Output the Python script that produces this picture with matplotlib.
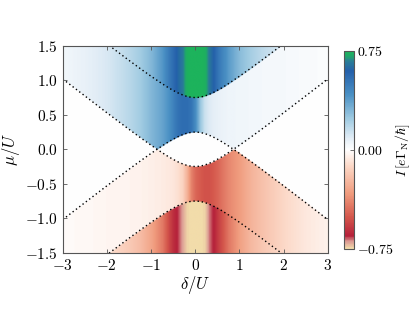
import numpy as np
import matplotlib
matplotlib.use('Agg')
from matplotlib import pyplot as plt
from matplotlib.colors import LinearSegmentedColormap

plt.rcParams['mathtext.fontset'] = 'cm'
plt.rcParams['font.family'] = 'serif'
plt.rcParams['font.serif'] = ['DejaVu Serif']

# detuning sample points (delta/U)
delta = [-3, -2.5, -2, -1.5, -1.25, -1, -0.75, -0.6, -0.5, -0.4, -0.3, -0.2, -0.1, 0,
         0.1, 0.2, 0.3, 0.4, 0.5, 0.6, 0.75, 1, 1.25, 1.5, 2, 2.5, 3]

# half width of the resonance lines (mu/U) read at the delta points
half_width = [1.52, 1.275, 1.03, 0.79, 0.673, 0.559, 0.451, 0.39, 0.354, 0.32, 0.292, 0.269, 0.255, 0.25,
              0.255, 0.269, 0.292, 0.32, 0.354, 0.39, 0.451, 0.559, 0.673, 0.79, 1.03, 1.275, 1.52]
line_offset = 0.5

# current in each region, read along delta
current_top = [0.04, 0.07, 0.11, 0.18, 0.23, 0.3, 0.4, 0.5, 0.56, 0.62, 0.66, 0.74, 0.75, 0.75,
               0.75, 0.74, 0.66, 0.6, 0.52, 0.46, 0.38, 0.28, 0.22, 0.17, 0.1, 0.06, 0.04]
current_upper = [0.04, 0.07, 0.11, 0.18, 0.23, 0.3, 0.36, 0.42, 0.48, 0.53, 0.55, 0.55, 0.52, 0.42,
                 0.25, 0.14, 0.1, 0.08, 0.07, 0.06, 0.05, 0.045, 0.04, 0.035, 0.03, 0.02, 0.015]
current_lower = [-0.015, -0.02, -0.03, -0.035, -0.04, -0.05, -0.06, -0.07, -0.08, -0.1, -0.14, -0.25, -0.4, -0.47,
                 -0.5, -0.52, -0.52, -0.5, -0.47, -0.43, -0.38, -0.32, -0.25, -0.2, -0.12, -0.07, -0.04]
current_bottom = [-0.04, -0.06, -0.1, -0.17, -0.22, -0.3, -0.42, -0.55, -0.62, -0.66, -0.7, -0.74, -0.75, -0.75,
                  -0.75, -0.74, -0.68, -0.65, -0.58, -0.52, -0.42, -0.31, -0.23, -0.18, -0.11, -0.07, -0.04]

cmap = LinearSegmentedColormap.from_list('cur', [
    (0.0, '#f2dcaa'), (0.035, '#dc9c94'), (0.065, '#b5203a'), (0.16, '#d4574c'),
    (0.28, '#f09c7e'), (0.42, '#fcd9c8'), (0.5, '#ffffff'), (0.56, '#e2edf6'),
    (0.66, '#9ecae1'), (0.78, '#4a90c4'), (0.9, '#2460aa'), (0.95, '#2a7e96'),
    (0.975, '#1fa868'), (1.0, '#1db35c')])

fig = plt.figure(figsize=(4.15, 3.12), dpi=100)
ax = fig.add_axes([0.151, 0.190, 0.639, 0.663])

dd = np.linspace(-3, 3, 601)
mm = np.linspace(-1.5, 1.5, 451)
h = np.interp(dd, delta, half_width)
line_a = line_offset + h
line_c = h - line_offset
line_d = line_offset - h
line_e = -line_offset - h
D, M = np.meshgrid(dd, mm)
hi = np.maximum(line_c, line_d)[None, :]
lo = np.minimum(line_c, line_d)[None, :]
field = np.zeros_like(D)
field = np.where(M > hi, np.interp(dd, delta, current_upper)[None, :], field)
field = np.where(M > line_a[None, :], np.interp(dd, delta, current_top)[None, :], field)
field = np.where(M < lo, np.interp(dd, delta, current_lower)[None, :], field)
field = np.where(M < line_e[None, :], np.interp(dd, delta, current_bottom)[None, :], field)

im = ax.imshow(field, extent=[-3, 3, -1.5, 1.5], origin='lower', aspect='auto',
               cmap=cmap, vmin=-0.75, vmax=0.75, interpolation='bilinear')

hw = np.array(half_width)
for curve in [line_offset + hw, hw - line_offset, line_offset - hw, -line_offset - hw]:
    ax.plot(delta, curve, color='black', lw=1.0, ls=(0, (1, 2)))

ax.set_xlim(-3, 3)
ax.set_ylim(-1.5, 1.5)
xt = [-3, -2, -1, 0, 1, 2, 3]
yt = [-1.5, -1.0, -0.5, 0.0, 0.5, 1.0, 1.5]
ax.set_xticks(xt)
ax.set_xticklabels(['$%d$' % v for v in xt])
ax.set_yticks(yt)
ax.set_yticklabels(['$%.1f$' % v for v in yt])
ax.tick_params(direction='in', top=True, right=True, length=3, width=0.6,
               labelsize=11, color='#555555')
for s in ax.spines.values():
    s.set_color('#555555')
ax.set_xlabel(r'$\delta/U$', fontsize=12, labelpad=1)
ax.set_ylabel(r'$\mu/U$', fontsize=12, labelpad=2)

cax = fig.add_axes([0.829, 0.202, 0.024, 0.635])
cb = fig.colorbar(im, cax=cax, ticks=[-0.75, 0, 0.75])
cb.ax.set_yticklabels(['$-0.75$', '$0.00$', '$0.75$'])
cb.ax.tick_params(direction='in', length=3, width=0.6, labelsize=10, color='#555555', pad=2)
cb.outline.set_edgecolor('#555555')
cb.set_label(r'$I\,[e\Gamma_{\rm N}/\hbar]$', fontsize=10, labelpad=0)

fig.savefig('out.png', dpi=100)
